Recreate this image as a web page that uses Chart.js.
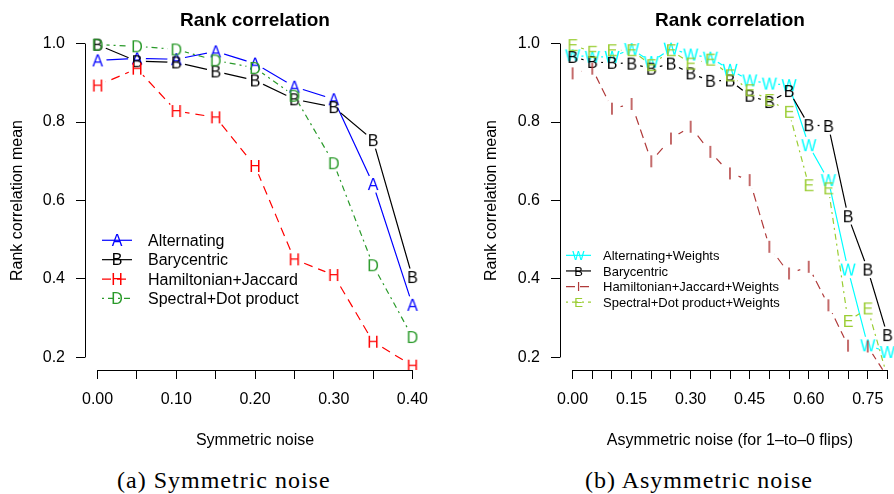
<!DOCTYPE html>
<html>
<head>
<meta charset="utf-8">
<script src="https://cdn.jsdelivr.net/npm/chart.js@4.4.1/dist/chart.umd.min.js"></script>
<style>
  html, body { margin: 0; padding: 0; background: #fff; overflow: hidden; width: 894px; height: 494px; }
  canvas { position: absolute; top: 0; }
  #symChart { left: 0; }
  #asymChart { left: 447px; }
  .caption { position: absolute; top: 468px; font-family: "Liberation Serif", serif; font-size: 24px;
             line-height: 24px; letter-spacing: 1px; color: #000; white-space: nowrap; }
</style>
</head>
<body>
<canvas id="symChart" width="447" height="460"></canvas>
<canvas id="asymChart" width="460" height="460"></canvas>
<div class="caption" style="left:117px">(a) Symmetric noise</div>
<div class="caption" style="left:585px">(b) Asymmetric noise</div>
<script>
// ---- data ----
const symNoise = [0.00, 0.05, 0.10, 0.15, 0.20, 0.25, 0.30, 0.35, 0.40];
const symAlternating = [0.957, 0.962, 0.960, 0.980, 0.949, 0.890, 0.858, 0.642, 0.334];
const symBarycentric = [0.997, 0.955, 0.952, 0.929, 0.906, 0.858, 0.838, 0.754, 0.405];
const symHamiltonian = [0.893, 0.936, 0.828, 0.812, 0.688, 0.450, 0.410, 0.240, 0.179];
const symSpectral = [0.997, 0.993, 0.985, 0.957, 0.938, 0.867, 0.695, 0.435, 0.252];

const asymNoise = [0.00, 0.05, 0.10, 0.15, 0.20, 0.25, 0.30, 0.35, 0.40,
                   0.45, 0.50, 0.55, 0.60, 0.65, 0.70, 0.75, 0.80];
const asymAlternatingW = [0.970, 0.966, 0.966, 0.986, 0.953, 0.987, 0.972, 0.964, 0.933,
                          0.906, 0.898, 0.894, 0.741, 0.652, 0.424, 0.231, 0.214];
const asymBarycentric = [0.966, 0.953, 0.951, 0.949, 0.936, 0.949, 0.924, 0.905, 0.906,
                         0.867, 0.851, 0.879, 0.792, 0.790, 0.560, 0.424, 0.257];
const asymHamiltonianW = [0.924, 0.936, 0.834, 0.846, 0.700, 0.758, 0.788, 0.724, 0.669,
                          0.652, 0.482, 0.414, 0.431, 0.333, 0.230, 0.228, 0.150];
const asymSpectralW = [0.996, 0.979, 0.983, 0.983, 0.945, 0.983, 0.949, 0.959, 0.919,
                       0.881, 0.856, 0.826, 0.639, 0.631, 0.293, 0.325, 0.150];

const yTicks = [0.2, 0.4, 0.6, 0.8, 1.0];
const symTickLabels = ['0.00', '0.10', '0.20', '0.30', '0.40'];
const asymTickLabels = ['0.00', '0.15', '0.30', '0.45', '0.60', '0.75'];

const SANS = "'Liberation Sans', Arial, sans-serif";
const GAP = 9;   // R type="b" leaves about half a line of gap around each point

Chart.defaults.font.family = SANS;
Chart.defaults.font.size = 16;
Chart.defaults.color = '#000';

const symSeries = [
  { label: 'Alternating', letter: 'A', values: symAlternating, color: '#0000ff', dash: [] },
  { label: 'Barycentric', letter: 'B', values: symBarycentric, color: '#000000', dash: [] },
  { label: 'Hamiltonian+Jaccard', letter: 'H', values: symHamiltonian, color: '#ff0000', dash: [9, 6] },
  { label: 'Spectral+Dot product', letter: 'D', values: symSpectral, color: '#2a9a2a', dash: [2, 4, 6, 4] }
];
const asymSeries = [
  { label: 'Alternating+Weights', letter: 'W', values: asymAlternatingW, color: '#00ffff', dash: [] },
  { label: 'Barycentric', letter: 'B', values: asymBarycentric, color: '#000000', dash: [] },
  { label: 'Hamiltonian+Jaccard+Weights', letter: 'I', values: asymHamiltonianW, color: '#b03a3a', dash: [9, 5] },
  { label: 'Spectral+Dot product+Weights', letter: 'E', values: asymSpectralW, color: '#9acd32', dash: [2, 4, 6, 4] }
];

function letterImage(ch, color, size) {
  const c = document.createElement('canvas');
  c.width = 20; c.height = 20;
  const g = c.getContext('2d');
  g.font = size + 'px ' + SANS;
  g.fillStyle = color;
  g.textAlign = 'center';
  g.textBaseline = 'alphabetic';
  g.fillText(ch, 10, 10 + size * 0.716 / 2);
  return c;
}

// clip circles out of the line so it breaks around each letter
const gapPlugin = {
  id: 'gaps',
  beforeDatasetDraw(chart, args) {
    if (!chart.data.datasets[args.index].gap) return;
    const ctx = chart.ctx, a = chart.chartArea;
    ctx.save();
    ctx.beginPath();
    ctx.rect(a.left - 50, a.top - 50, a.right - a.left + 100, a.bottom - a.top + 100);
    args.meta.data.forEach(p => {
      ctx.moveTo(p.x + GAP, p.y);
      ctx.arc(p.x, p.y, GAP, 0, Math.PI * 2);
    });
    ctx.clip('evenodd');
  },
  afterDatasetDraw(chart, args) {
    if (chart.data.datasets[args.index].gap) chart.ctx.restore();
  }
};

function makeChart(id, xs, series, cfg) {
  const datasets = [];
  const n = series.length * 2;
  series.forEach((s, i) => {
    const pts = xs.map((x, k) => ({ x: x, y: s.values[k] }));
    datasets.push({ data: pts, showLine: true, borderColor: s.color, borderWidth: 1.2,
                    borderDash: s.dash, pointRadius: 0, tension: 0, gap: true, clip: 0, order: n - 2 * i });
    datasets.push({ data: pts, showLine: false, pointStyle: letterImage(s.letter, s.color, 16),
                    pointRadius: 6, clip: 0, order: n - 2 * i - 1 });
  });

  // R-like decorations: title, axis lines over the tick range, legend inside the plot
  const deco = {
    id: 'deco',
    afterDraw(chart) {
      const ctx = chart.ctx, a = chart.chartArea;
      const xsc = chart.scales.x, ysc = chart.scales.y;
      ctx.save();
      ctx.fillStyle = '#000';
      ctx.font = 'bold 19px ' + SANS;
      ctx.textAlign = 'center';
      ctx.textBaseline = 'alphabetic';
      ctx.fillText('Rank correlation', (a.left + a.right) / 2, 26);

      ctx.strokeStyle = '#000';
      ctx.lineWidth = 1;
      ctx.beginPath();
      const by = Math.round(a.bottom) + 0.5;
      ctx.moveTo(xsc.getPixelForValue(xs[0]), by);
      ctx.lineTo(xsc.getPixelForValue(xs[xs.length - 1]), by);
      const lx = Math.round(a.left) + 0.5;
      ctx.moveTo(lx, ysc.getPixelForValue(yTicks[yTicks.length - 1]));
      ctx.lineTo(lx, ysc.getPixelForValue(yTicks[0]));
      ctx.stroke();

      const L = cfg.legend;
      ctx.font = L.size + 'px ' + SANS;
      series.forEach((s, i) => {
        const base = L.baseY + i * L.step;
        const cy = base - L.size * 0.716 / 2;
        ctx.strokeStyle = s.color;
        ctx.lineWidth = 1.2;
        ctx.setLineDash(s.dash);
        ctx.beginPath();
        ctx.moveTo(L.x0, cy);
        ctx.lineTo(L.x1, cy);
        ctx.stroke();
        ctx.setLineDash([]);
        ctx.fillStyle = s.color;
        ctx.textAlign = 'center';
        ctx.fillText(s.letter, (L.x0 + L.x1) / 2, base);
        ctx.fillStyle = '#000';
        ctx.textAlign = 'left';
        ctx.fillText(s.label, L.textX, base);
      });
      ctx.restore();
    }
  };

  return new Chart(document.getElementById(id), {
    type: 'scatter',
    data: { datasets: datasets },
    options: {
      responsive: false,
      animation: false,
      events: [],
      layout: { padding: { left: 0, top: 31, right: cfg.padRight, bottom: 0 } },
      plugins: { legend: { display: false }, tooltip: { enabled: false } },
      scales: {
        x: {
          type: 'linear', min: cfg.xMin, max: cfg.xMax,
          afterBuildTicks: s => { s.ticks = xs.map(v => ({ value: v })); },
          afterFit: s => { s.height = 90; },
          border: { display: false },
          grid: { drawOnChartArea: false, drawTicks: true, tickLength: 9, color: '#000', tickColor: '#000', lineWidth: 1 },
          ticks: {
            autoSkip: false, maxRotation: 0, padding: 11, font: { size: 16 },
            callback: v => { const t = v.toFixed(2); return cfg.xLabels.includes(t) ? t : ''; }
          },
          title: { display: true, text: cfg.xTitle, font: { size: 16 }, padding: { top: 0, bottom: 10 } }
        },
        y: {
          type: 'linear', min: 0.168, max: 1.032,
          afterBuildTicks: s => { s.ticks = yTicks.map(v => ({ value: v })); },
          afterFit: s => { s.width = cfg.yWidth; },
          border: { display: false },
          grid: { drawOnChartArea: false, drawTicks: true, tickLength: 9, color: '#000', tickColor: '#000', lineWidth: 1 },
          ticks: { padding: 11, font: { size: 16 }, callback: v => v.toFixed(1) },
          title: { display: true, text: 'Rank correlation mean', font: { size: 16 }, padding: { top: cfg.yTitlePad, bottom: 0 } }
        }
      }
    },
    plugins: [gapPlugin, deco]
  });
}

makeChart('symChart', symNoise, symSeries, {
  xMin: -0.016, xMax: 0.416, padRight: 22, yWidth: 85, yTitlePad: 8,
  xLabels: symTickLabels, xTitle: 'Symmetric noise',
  legend: { x0: 102, x1: 132, textX: 148, baseY: 246, step: 19.4, size: 16 }
});

makeChart('asymChart', asymNoise, asymSeries, {
  xMin: -0.032, xMax: 0.832, padRight: 7, yWidth: 113, yTitlePad: 35,
  xLabels: asymTickLabels, xTitle: 'Asymmetric noise (for 1\u2013to\u20130 flips)',
  legend: { x0: 119, x1: 144, textX: 156, baseY: 260, step: 15.6, size: 13 }
});
</script>
</body>
</html>
